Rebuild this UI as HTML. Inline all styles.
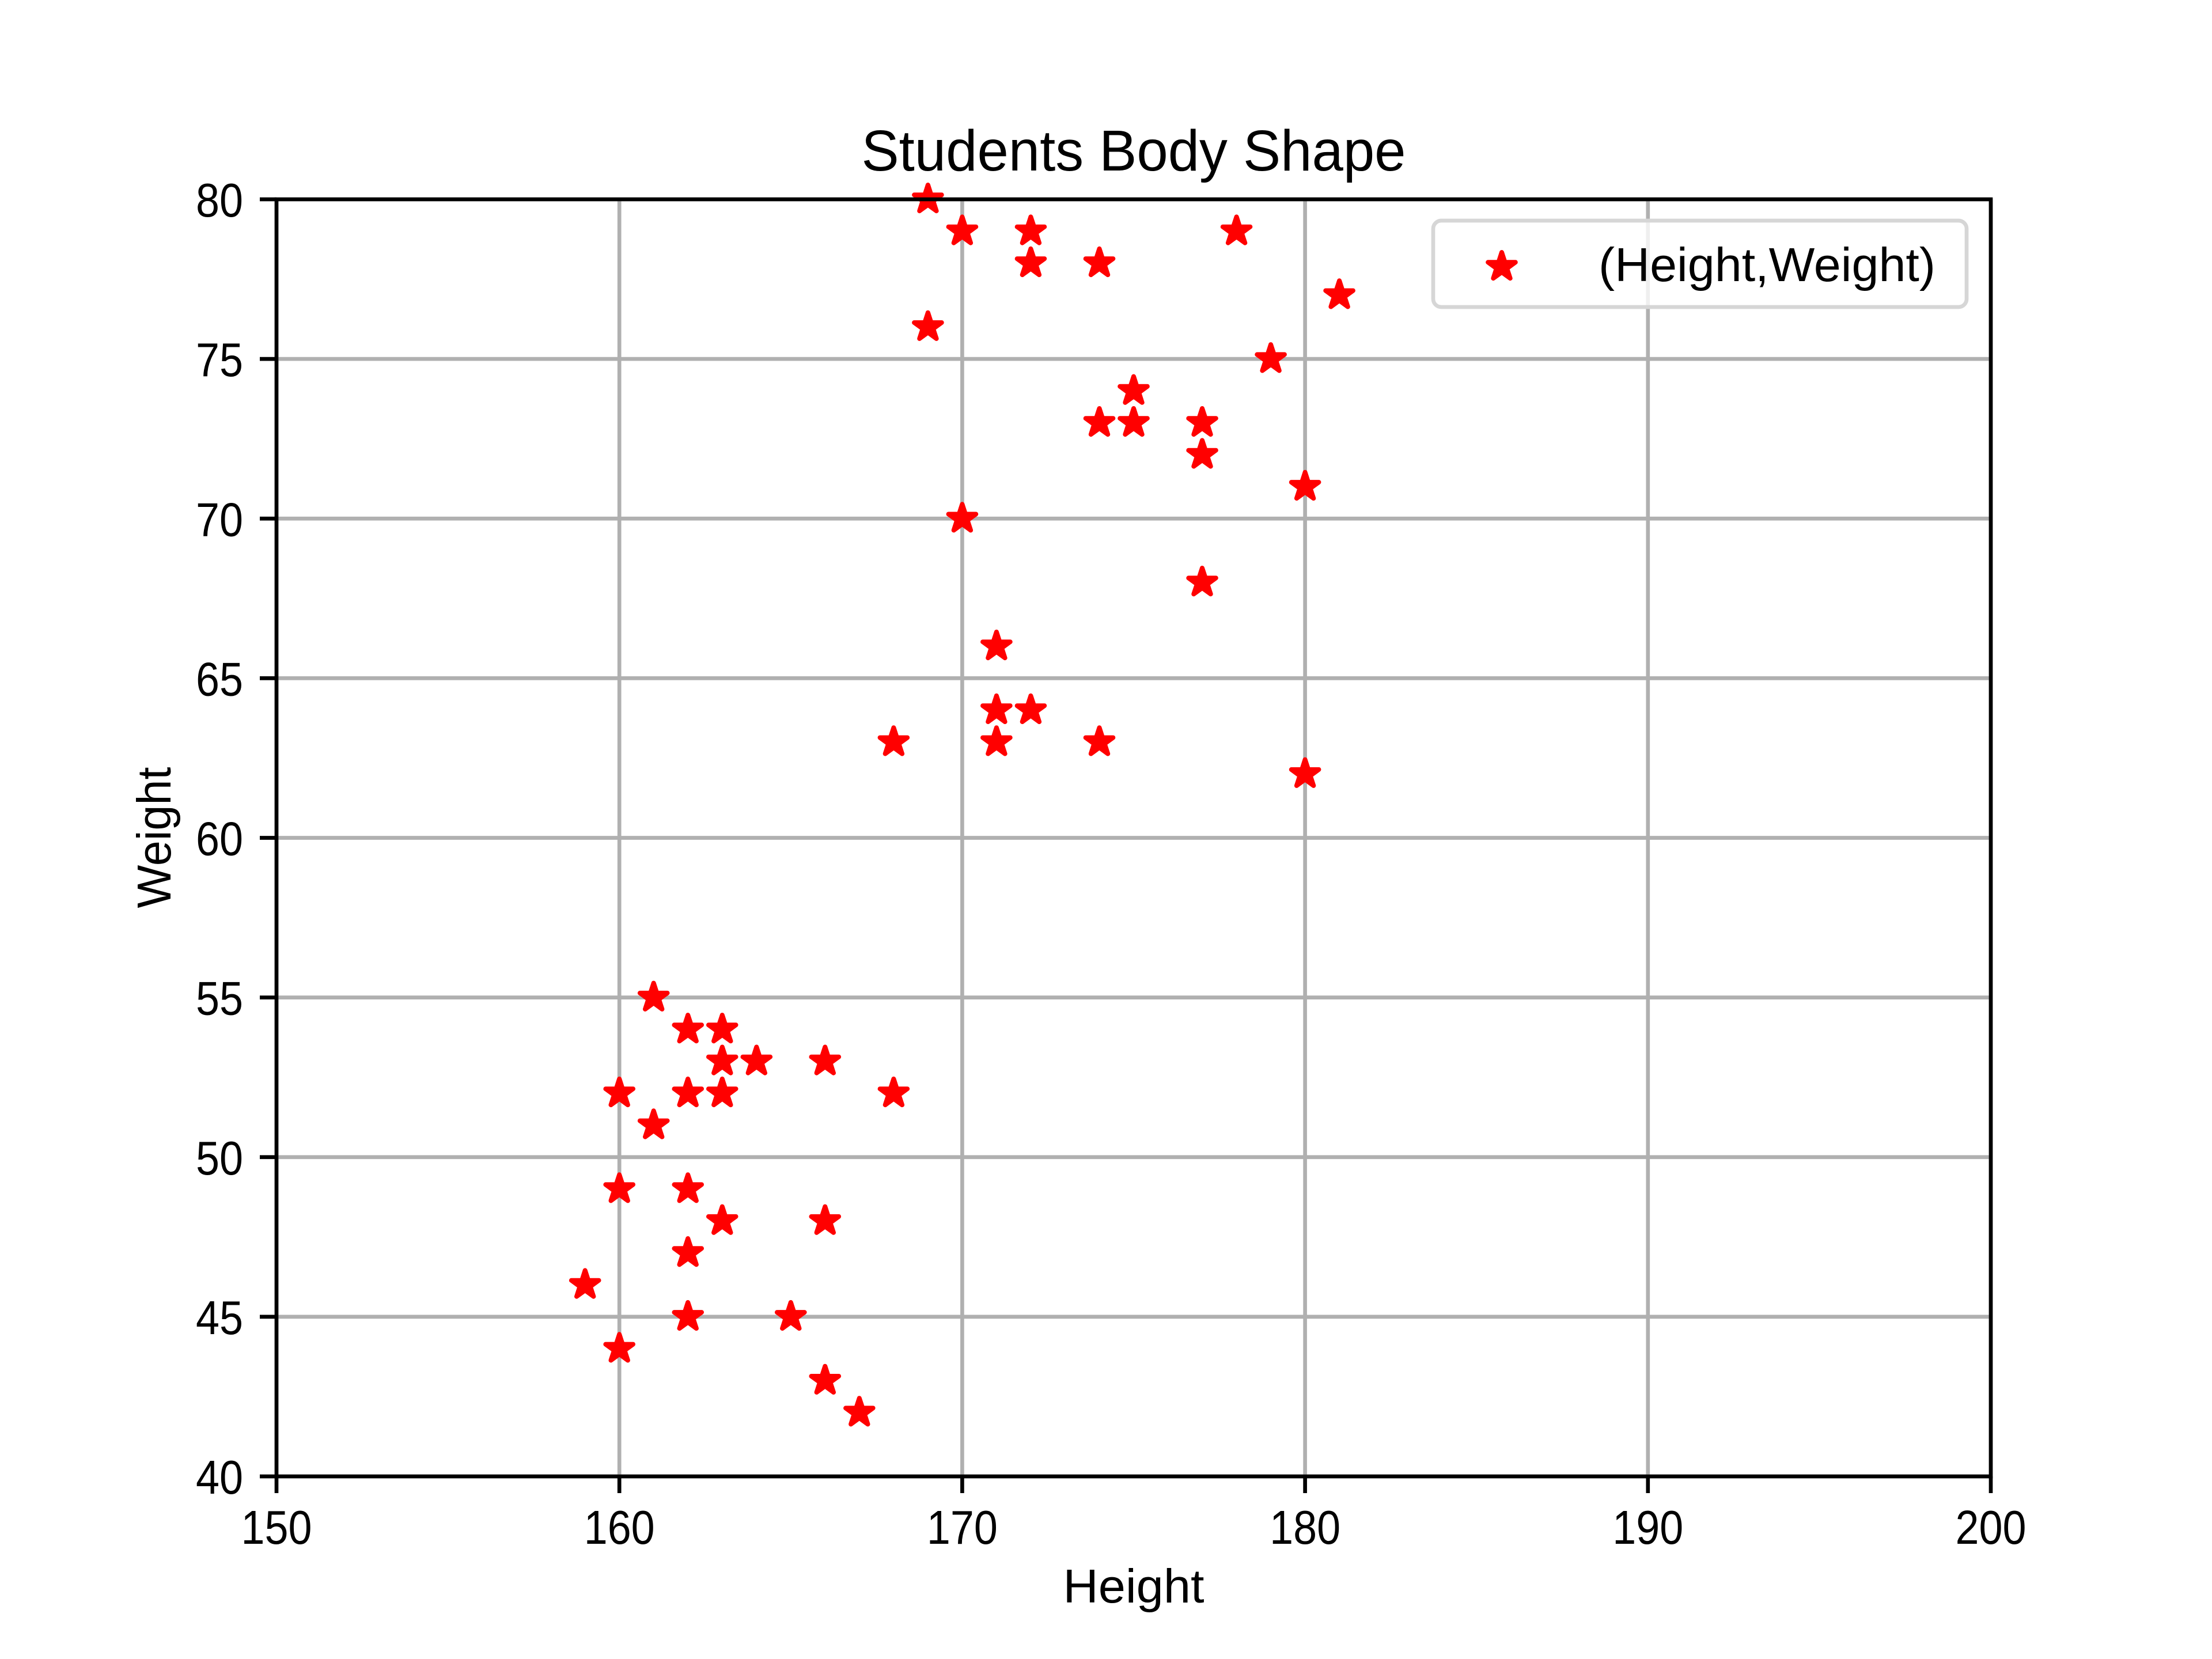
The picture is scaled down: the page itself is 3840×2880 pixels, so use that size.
<!DOCTYPE html>
<html><head><meta charset="utf-8"><style>html,body{margin:0;padding:0;background:#fff}svg{display:block}</style></head>
<body>
<svg id="chart" xmlns="http://www.w3.org/2000/svg" width="3840" height="2880" viewBox="0 0 3840 2880">
<rect width="3840" height="2880" fill="#fff"/>
<g id="grid"></g>
<g id="marks"></g>
<g id="axes"></g>
<text x="1968" y="296" text-anchor="middle" font-family="'Liberation Sans','WenQuanYi Zen Hei',sans-serif" font-size="100" textLength="945" lengthAdjust="spacingAndGlyphs">Students Body Shape</text>
<text x="1968" y="2782" text-anchor="middle" font-family="'Liberation Sans','WenQuanYi Zen Hei',sans-serif" font-size="83" textLength="245" lengthAdjust="spacingAndGlyphs">Height</text>
<text transform="translate(296,1454) rotate(-90)" text-anchor="middle" font-family="'Liberation Sans','WenQuanYi Zen Hei',sans-serif" font-size="83" textLength="245" lengthAdjust="spacingAndGlyphs">Weight</text>
<g id="legend">
<rect x="2488" y="383" width="926" height="150" rx="14" fill="#fff" fill-opacity="0.8" stroke="#d6d6d6" stroke-width="6.67"/>
<path id="legend-star" fill="#ff0000" stroke="#ff0000" stroke-width="8" stroke-linejoin="round"/>
<text x="2775" y="488" font-family="'Liberation Sans','WenQuanYi Zen Hei',sans-serif" font-size="83" textLength="585" lengthAdjust="spacingAndGlyphs">(Height,Weight)</text>
</g>
</svg>
<script>
const heights=[169,170,172,178,172,174,181,169,179,175,174,175,177,177,180,170,177,171,171,172,168,171,174,180,161,162,163,163,164,166,160,162,163,168,161,160,162,163,166,162,159,162,165,160,166,167];
const weights=[80,79,79,79,78,78,77,76,75,74,73,73,73,72,71,70,68,66,64,64,63,63,63,62,55,54,54,53,53,53,52,52,52,52,51,49,49,48,48,47,46,45,45,44,43,42];
const xTicks=[150,160,170,180,190,200];
const yTicks=[40,45,50,55,60,65,70,75,80];
const NS="http://www.w3.org/2000/svg";
const L=480,R=3456,T=346,B=2563,xMin=150,xMax=200,yMin=40,yMax=80;
function xs(v){return L+(v-xMin)/(xMax-xMin)*(R-L);}
function ys(v){return B-(v-yMin)/(yMax-yMin)*(B-T);}
function mk(tag,attrs,parent){const e=document.createElementNS(NS,tag);for(const k in attrs)e.setAttribute(k,attrs[k]);parent.appendChild(e);return e;}
function star(cx,cy,r){let d="";for(let i=0;i<10;i++){const a=Math.PI/2+i*Math.PI/5;const rr=i%2?r*0.381966:r;d+=(i?"L":"M")+(cx+rr*Math.cos(a)).toFixed(1)+","+(cy-rr*Math.sin(a)).toFixed(1);}return d+"Z";}
const grid=document.getElementById('grid'),axes=document.getElementById('axes'),marks=document.getElementById('marks');
const font="'Liberation Sans','WenQuanYi Zen Hei',sans-serif";
xTicks.forEach(t=>{
  const g=mk('line',{x1:xs(t),x2:xs(t),y1:T,y2:B,stroke:'#b0b0b0','stroke-width':6.67},grid);
  
  
  const tk=mk('line',{x1:xs(t),x2:xs(t),y1:B,y2:B+29,stroke:'#000','stroke-width':6.67},axes);
  
  
  const s=String(t);
  const lb=mk('text',{x:xs(t),y:2680,'text-anchor':'middle','font-family':font,'font-size':83,textLength:s.length*41,lengthAdjust:'spacingAndGlyphs'},axes);
  lb.textContent=s;
  
  
});
yTicks.forEach(t=>{
  const g=mk('line',{x1:L,x2:R,y1:ys(t),y2:ys(t),stroke:'#b0b0b0','stroke-width':6.67},grid);
  
  
  const tk=mk('line',{x1:L-29,x2:L,y1:ys(t),y2:ys(t),stroke:'#000','stroke-width':6.67},axes);
  
  
  const s=String(t);
  const lb=mk('text',{x:422,y:ys(t)+30,'text-anchor':'end','font-family':font,'font-size':83,textLength:s.length*41,lengthAdjust:'spacingAndGlyphs'},axes);
  lb.textContent=s;
  
  
});
const frame=mk('rect',{x:L,y:T,width:R-L,height:B-T,fill:'none',stroke:'#000','stroke-width':6.67},axes);


heights.forEach((h,i)=>{
  const p=mk('path',{d:star(xs(h),ys(weights[i]),25),fill:'#ff0000',stroke:'#ff0000','stroke-width':8,'stroke-linejoin':'round'},marks);
  
  
});
document.getElementById('legend-star').setAttribute('d',star(2607,463,25));
</script>
</body></html>
